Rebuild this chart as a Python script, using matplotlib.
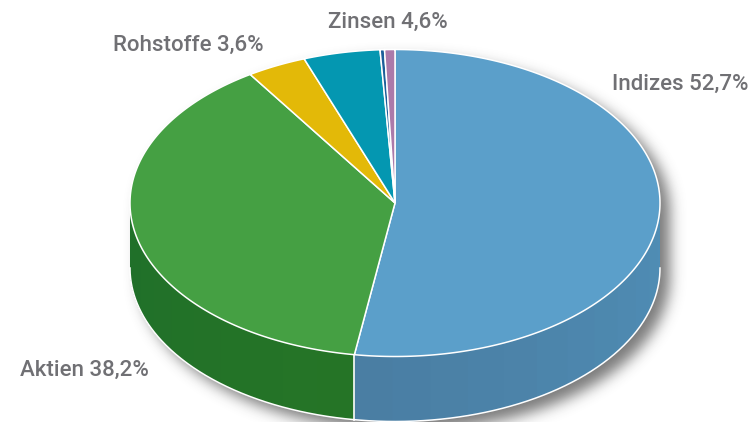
import numpy as np
import matplotlib
matplotlib.use('Agg')
import matplotlib.pyplot as plt
from matplotlib.colors import to_rgb
from matplotlib.patches import Polygon

# Flaechenanteile, Beschriftung separat
values = [52.45, 38.35, 3.63, 4.67, 0.27, 0.63]
colors = ['#5b9fca', '#45a043', '#e3b908', '#0497b1', '#1c5f9a', '#ab7aaa']
side_start = ['#4a7ea3', '#267526', '#b08c00', '#03748a', '#154a78', '#775f8f']
side_end = ['#4f8db5', '#1f6f2a', '#b08c00', '#03748a', '#154a78', '#775f8f']
shown_labels = ['Indizes 52,7%', 'Aktien 38,2%', 'Rohstoffe 3,6%', 'Zinsen 4,6%']
label_pos = [(612, 84), (20, 370), (113, 45), (328, 22)]

W, H = 752, 422
plt.rcParams['font.family'] = ['Roboto', 'DejaVu Sans']
fig = plt.figure(figsize=(W / 100, H / 100), dpi=100)
ax = fig.add_axes([0, 0, 1, 1])

cx, cy = 395, 203
rx, ry = 265, 153.5
depth = 65

fracs = np.array(values) / sum(values)
ends = np.cumsum(fracs) * 2 * np.pi
starts = ends - fracs * 2 * np.pi


def ell(t):
    return cx + rx * np.sin(t), cy - ry * np.cos(t)


# weicher Schatten: Maske des Koerpers, versetzt und weichgezeichnet
pad = 40
gx, gy = np.meshgrid(np.arange(-pad, W + pad) + 0.5, np.arange(-pad, H + pad) + 0.5)
dx, dy = (gx - cx - 10) / rx, gy - cy - 9
inside = np.abs(dx) <= 1
half = np.sqrt(np.clip(1 - dx ** 2, 0, 1)) * ry
mask = (inside & (dy >= -half) & (dy <= half + depth)).astype(float)
kern = np.exp(-np.arange(-24, 25) ** 2 / (2 * 7.0 ** 2))
kern /= kern.sum()
mask = np.apply_along_axis(lambda r: np.convolve(r, kern, mode='same'), 0, mask)
mask = np.apply_along_axis(lambda r: np.convolve(r, kern, mode='same'), 1, mask)
shadow = np.zeros(mask.shape + (4,))
shadow[..., :3] = 0.2
shadow[..., 3] = mask * 0.65
ax.imshow(shadow, extent=(-pad, W + pad, H + pad, -pad), interpolation='bilinear', zorder=1)

# Seitenwand, Streifen von links nach rechts uebereinander
for s, e, c0, c1 in zip(starts, ends, side_start, side_end):
    a, b = max(s, np.pi / 2), min(e, 3 * np.pi / 2)
    if a >= b:
        continue
    n = max(int((b - a) / 0.14), 1)
    edges = np.linspace(a, b, n + 1)
    c0, c1 = np.array(to_rgb(c0)), np.array(to_rgb(c1))
    for k in range(n):
        # jeder Streifen laeuft bis zum Ende durch, der naechste deckt ihn ab
        t = np.linspace(edges[k], b, 200)
        x, y = ell(t)
        pts = np.r_[np.c_[x, y], np.c_[x[::-1], y[::-1] + depth]]
        w = min(1, abs(edges[k] - np.pi) / (np.pi / 2))
        col = c0 + (c1 - c0) * w
        ax.add_patch(Polygon(pts, closed=True, fc=col, ec='none', zorder=2))
    t = np.linspace(a, b, 200)
    x, y = ell(t)
    ax.plot(x, y + depth, color='white', lw=1.1, zorder=2.5)
    if np.isclose(a, s):
        ax.plot([x[0], x[0]], [y[0], y[0] + depth], color='white', lw=1.2, zorder=2.6)

# Deckel
for s, e, c in zip(starts, ends, colors):
    t = np.linspace(s, e, 200)
    x, y = ell(t)
    pts = np.r_[[[cx, cy]], np.c_[x, y]]
    ax.add_patch(Polygon(pts, closed=True, fc=c, ec='white', lw=1.1, zorder=3))

for txt, (lx, ly) in zip(shown_labels, label_pos):
    ax.text(lx, ly, txt, fontsize=16, fontweight='medium', color='#707074', ha='left', va='center', zorder=5)

ax.set_xlim(0, W)
ax.set_ylim(H, 0)
ax.set_aspect('auto')
ax.axis('off')

fig.savefig('out.png', dpi=100)
